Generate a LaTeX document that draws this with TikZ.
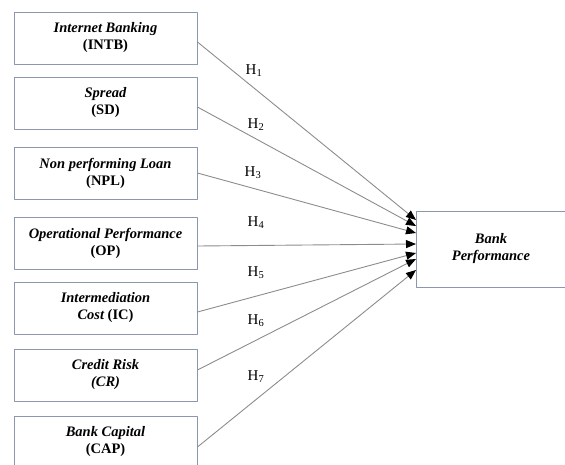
\documentclass[tikz,border=0pt]{standalone}
\usepackage{fontspec}
\setmainfont{Liberation Serif}
\definecolor{boxline}{HTML}{8A97AD}
\definecolor{arrowline}{HTML}{8C8C8C}
\tikzset{
  varbox/.style={draw=boxline,line width=0.9pt,minimum width=183pt,minimum height=52pt,
    align=center,inner sep=2pt,font=\fontsize{14.5}{17}\selectfont\bfseries},
  hlabel/.style={font=\fontsize{15}{17}\selectfont},
  link/.style={draw=arrowline,line width=0.9pt,-{Triangle[black,length=10pt,width=8pt]}}
}
\usetikzlibrary{arrows.meta}
\begin{document}
\begin{tikzpicture}[x=1pt,y=-1pt,line join=round]
	\useasboundingbox (0,0) rectangle (565,464);
	% independent variables
	\node[varbox] (intb) at (105.5,38) {\itshape Internet Banking\\(INTB)};
	\node[varbox] (sd) at (105.5,103) {\itshape Spread\\(SD)};
	\node[varbox] (npl) at (105.5,173) {\itshape Non performing Loan\\(NPL)};
	\node[varbox] (op) at (105.5,243) {\itshape Operational Performance\\(OP)};
	\node[varbox] (ic) at (105.5,308) {\itshape Intermediation\\{\itshape Cost} (IC)};
	\node[varbox] (cr) at (105.5,375) {\itshape Credit Risk\\\itshape (CR)};
	\node[varbox] (cap) at (105.5,442) {\itshape Bank Capital\\(CAP)};
	% dependent variable
	\node[varbox,minimum width=150pt,minimum height=76pt] (bp) at (491,249) {\itshape Bank\\\itshape Performance};
	% arrow ends
	\coordinate (e1) at (416,220);
	\coordinate (e2) at (416,226);
	\coordinate (e3) at (416,233);
	\coordinate (e4) at (416,244);
	\coordinate (e5) at (416,253);
	\coordinate (e6) at (416,259);
	\coordinate (e7) at (416,270);
	\draw[link] (intb.east |- 0,42) -- (e1);
	\draw[link] (sd.east |- 0,107) -- (e2);
	\draw[link] (npl.east |- 0,173) -- (e3);
	\draw[link] (op.east |- 0,246) -- (e4);
	\draw[link] (ic.east |- 0,312) -- (e5);
	\draw[link] (cr.east |- 0,370) -- (e6);
	\draw[link] (cap.east |- 0,447) -- (e7);
	% hypotheses
	\node[hlabel] (h1) at (254,71) {H\textsubscript{1}};
	\node[hlabel] (h2) at (256,125) {H\textsubscript{2}};
	\node[hlabel] (h3) at (253,173) {H\textsubscript{3}};
	\node[hlabel] (h4) at (256,223) {H\textsubscript{4}};
	\node[hlabel] (h5) at (256,273) {H\textsubscript{5}};
	\node[hlabel] (h6) at (256,321) {H\textsubscript{6}};
	\node[hlabel] (h7) at (256,377) {H\textsubscript{7}};
\end{tikzpicture}
\end{document}
